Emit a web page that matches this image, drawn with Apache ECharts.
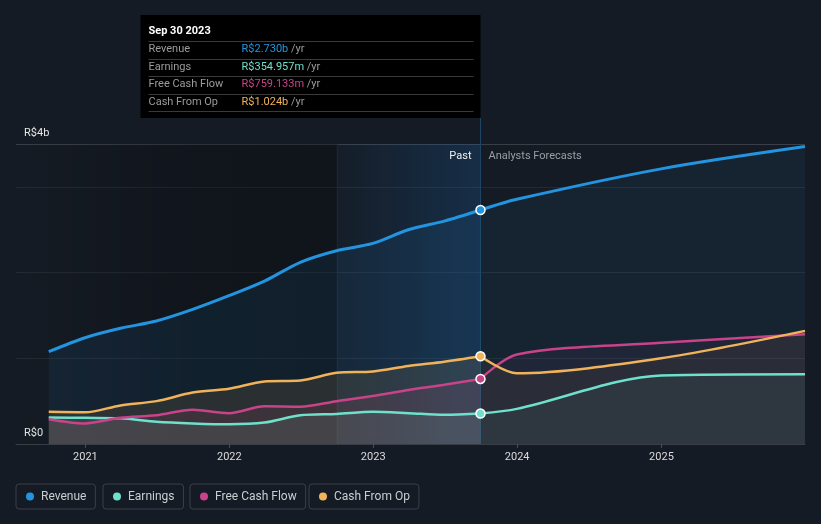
<!DOCTYPE html>
<html><head><meta charset="utf-8">
<script src="https://cdn.jsdelivr.net/npm/echarts@6/dist/echarts.min.js"></script>
<style>html,body{margin:0;padding:0;background:#151b24}#c{width:821px;height:524px}</style>
</head><body><div id="c"></div>
<script>
// ---- data (values in R$ billions) ----
const pastDates = ['2020-09-30','2020-12-31','2021-03-31','2021-06-30','2021-09-30','2021-12-31','2022-03-31','2022-06-30','2022-09-30','2022-12-31','2023-03-31','2023-06-30','2023-09-30'];
const forecastDates = ['2023-09-30','2023-12-31','2024-12-31','2025-12-31'];
const revenuePast  = [1.077,1.24,1.35,1.435,1.57,1.73,1.90,2.12,2.255,2.34,2.50,2.60,2.730];
const earningsPast = [0.31,0.305,0.30,0.26,0.24,0.23,0.25,0.335,0.35,0.375,0.36,0.34,0.354957];
const fcfPast      = [0.29,0.24,0.305,0.335,0.40,0.36,0.44,0.435,0.50,0.56,0.63,0.69,0.759133];
const cfoPast      = [0.375,0.37,0.45,0.50,0.60,0.645,0.73,0.74,0.83,0.845,0.91,0.96,1.024];
const revenueFc  = [2.730,2.855,3.21,3.47];
const earningsFc = [0.354957,0.41,0.80,0.815];
const fcfFc      = [0.759133,1.045,1.18,1.28];
const cfoFc      = [1.024,0.825,1.0,1.32];
const seriesNames = ['Revenue','Earnings','Free Cash Flow','Cash From Op'];
const xTickDates = ['2021-01-01','2022-01-01','2023-01-01','2024-01-01','2025-01-01'];
const yTickLabels = {0:'R$0', 3.5:'R$4b'};
const xMin = '2020-07-09', xMax = '2025-12-31', yMax = 3.5;
const bandStart = '2022-09-30';
const tooltipTitle = 'Sep 30 2023';
const pastLabel = 'Past', forecastLabel = 'Analysts Forecasts';

const colors = ['#2394df','#6fe0cb','#c8438a','#f0b35a'];
const pastSets = [revenuePast, earningsPast, fcfPast, cfoPast];
const fcSets = [revenueFc, earningsFc, fcfFc, cfoFc];
const FONT = 'Roboto, "Noto Sans", sans-serif';

function rgba(hex, a){const n=parseInt(hex.slice(1),16);return 'rgba('+(n>>16)+','+((n>>8)&255)+','+(n&255)+','+a+')';}
function ts(s){const p=s.split('-').map(Number);return Date.UTC(p[0],p[1]-1,p[2]);}
function pairs(dates, vals){return dates.map((d,i)=>[ts(d), vals[i]]);}
function fmt(v){return v>=1 ? 'R$'+v.toFixed(3)+'b' : 'R$'+(v*1000).toFixed(3)+'m';}

const chart = echarts.init(document.getElementById('c'), null, {renderer:'canvas'});
const lastPast = pastDates[pastDates.length-1];
const SMOOTH = 0.3;

const series = [];
seriesNames.forEach((n,i)=>{
  const s = {
    type:'line', name:n, data:pairs(pastDates, pastSets[i]), smooth:SMOOTH,
    symbol:'none', lineStyle:{color:colors[i], width: i===0?3:2.5}, itemStyle:{color:colors[i]},
    areaStyle:{color: rgba(colors[i], i===0?0.13:0.16), origin:'start'}, silent:true, z:2
  };
  if(i===0){
    s.markArea = {silent:true, data:[
      [{xAxis:ts(xMin), itemStyle:{color:new echarts.graphic.LinearGradient(0,0,1,0,[{offset:0,color:'rgba(0,0,0,0)'},{offset:0.55,color:'rgba(0,0,0,0.22)'},{offset:1,color:'rgba(0,0,0,0.26)'}])}},{xAxis:ts(bandStart)}],
      [{xAxis:ts(bandStart), itemStyle:{color:new echarts.graphic.LinearGradient(0,0,1,0,[{offset:0,color:'rgba(25,100,170,0.04)'},{offset:1,color:'rgba(25,100,170,0.26)'}])}},{xAxis:ts(lastPast)}]
    ]};
  }
  series.push(s);
});
seriesNames.forEach((n,i)=>{
  series.push({
    type:'line', name:n, data:pairs(forecastDates, fcSets[i]), smooth:SMOOTH,
    symbol:'none', lineStyle:{color:colors[i], width: i===0?3:2.5}, itemStyle:{color:colors[i]},
    areaStyle:{color: rgba(colors[i], i===0?0.11:0.08), origin:'start'}, silent:true, z:2
  });
});
seriesNames.forEach((n,i)=>{
  series.push({
    type:'scatter', name:n, data:[[ts(lastPast), pastSets[i][pastSets[i].length-1]]], symbolSize:9,
    itemStyle:{color:colors[i], borderColor:'#ffffff', borderWidth:1.5, opacity:1}, z:5, silent:true
  });
});

const legendLefts = [16, 103, 190, 309];
const xTicks = xTickDates.map(ts);
const option = {
  animation:false,
  backgroundColor:'#151b24',
  grid:{left:16, right:16, top:144, bottom:80, containLabel:false},
  xAxis:{
    type:'value', min:ts(xMin), max:ts(xMax),
    axisLine:{show:true, lineStyle:{color:'#3a3f47', width:1}},
    axisTick:{show:true, customValues:xTicks, length:4, lineStyle:{color:'#4a4f57'}},
    axisLabel:{customValues:xTicks, formatter:v=>String(new Date(v).getUTCFullYear()), color:'#dcdcdc', fontSize:11, fontFamily:FONT, margin:8},
    splitLine:{show:false}
  },
  yAxis:{
    type:'value', min:0, max:yMax, interval:1,
    axisLine:{show:false}, axisTick:{show:false},
    axisLabel:{inside:true, formatter:v=>yTickLabels[v]||'', color:'#e6e6e6', fontSize:11, fontFamily:FONT, verticalAlign:'bottom', padding:[0,0,5,0], margin:8},
    splitLine:{show:true, lineStyle:{color:['#3a3f47','#252a32','#252a32','#252a32','#3a3f47'], width:1}}
  },
  legend: seriesNames.map((n,i)=>({
    left:legendLefts[i], top:484, data:[{name:n, icon:'circle'}], itemWidth:12, itemHeight:8,
    padding:[6,9,6,10], borderColor:'#3a3f48', borderWidth:1, borderRadius:3,
    itemStyle:{borderWidth:0},
    textStyle:{color:'#cbcdd1', fontSize:12, fontFamily:FONT, lineHeight:13}
  })),
  series: series
};
chart.setOption(option);

// overlay: tooltip box, past/forecast divider
const bx = chart.convertToPixel({xAxisIndex:0}, ts(lastPast));
const bs = Math.round(chart.convertToPixel({xAxisIndex:0}, ts(bandStart)))+0.5;
const yBot = chart.convertToPixel({yAxisIndex:0}, 0);
const yTop = chart.convertToPixel({yAxisIndex:0}, yMax);
const boxW = 340, boxL = bx - boxW, boxT = 15, boxH = 103;
const g = [];
g.push({type:'line', z:1, silent:true, shape:{x1:bs, y1:yTop, x2:bs, y2:yBot}, style:{stroke:'#1c2734', lineWidth:1}});
g.push({type:'line', z:1, silent:true, shape:{x1:bx, y1:boxT+boxH, x2:bx, y2:yBot}, style:{stroke:'#1f4566', lineWidth:1}});
g.push({type:'rect', z:10, silent:true, shape:{x:boxL, y:boxT, width:boxW, height:boxH}, style:{fill:'#000000'}});
g.push({type:'text', z:11, silent:true, style:{x:boxL+8, y:boxT+16.5, text:tooltipTitle, fill:'#ffffff', font:'bold 11px '+FONT, verticalAlign:'middle'}});
const rowStep = 17.5;
for(let k=0;k<5;k++){
  const yy = Math.round(boxT+26+k*rowStep)+0.5;
  g.push({type:'line', z:11, silent:true, shape:{x1:boxL+8, y1:yy, x2:boxL+333, y2:yy}, style:{stroke:'#3a3a3a', lineWidth:1}});
}
seriesNames.forEach((n,i)=>{
  const cy = boxT+34.5+i*rowStep;
  const v = pastSets[i][pastSets[i].length-1];
  g.push({type:'text', z:11, silent:true, style:{x:boxL+8, y:cy, text:n, fill:'#9b9b9b', font:'11px '+FONT, verticalAlign:'middle'}});
  g.push({type:'text', z:11, silent:true, style:{x:boxL+101, y:cy, text:'{v|'+fmt(v)+'} {u|/yr}', verticalAlign:'middle', font:'11px '+FONT,
    rich:{v:{fill:colors[i], fontSize:11, fontFamily:FONT}, u:{fill:'#9b9b9b', fontSize:11, fontFamily:FONT}}}});
});
g.push({type:'text', z:11, silent:true, style:{x:bx-9, y:yTop+12, text:pastLabel, fill:'#f0f0f0', font:'11px '+FONT, align:'right', verticalAlign:'middle'}});
g.push({type:'text', z:11, silent:true, style:{x:bx+8, y:yTop+12, text:forecastLabel, fill:'#9a9ea5', font:'11px '+FONT, align:'left', verticalAlign:'middle'}});
chart.setOption({graphic:g});
</script></body></html>
